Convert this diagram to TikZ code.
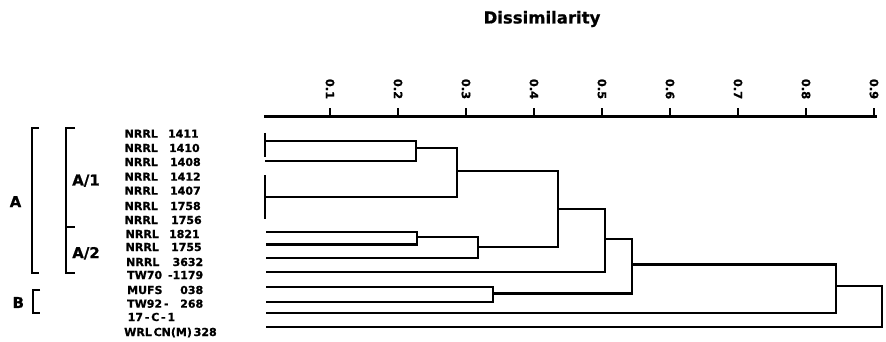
\documentclass[tikz,border=0pt]{standalone}
\usepackage{fontspec}
\setmainfont{DejaVu Sans}[BoldFeatures={FakeBold=0.8}]
\begin{document}
\begin{tikzpicture}[x=1pt,y=-1pt, line width=2.4pt, line join=miter,
  lbl/.style={anchor=west, inner sep=0pt, font=\bfseries\fontsize{11}{11}\selectfont, text height=8pt, text depth=0pt},
  ticklbl/.style={font=\bfseries\fontsize{11.5}{11.5}\selectfont, rotate=-90, inner sep=0pt},
  grp/.style={font=\bfseries\fontsize{15}{15}\selectfont, inner sep=0pt},
  brk/.style={line width=2.2pt}]
\useasboundingbox (0,0) rectangle (886,342);

% title
\node[font=\bfseries\fontsize{16.5}{16.5}\selectfont, inner sep=0pt] (title) at (542,19) {Dissimilarity};

% axis
\draw (264,116.5) -- (877,116.5);
\foreach \k/\t in {0/0.1,1/0.2,2/0.3,3/0.4,4/0.5,5/0.6,6/0.7,7/0.8,8/0.9}{
  \draw ({330+68*\k},116.5) -- ({330+68*\k},108.5);
  \node[ticklbl] (t\k) at ({330+68*\k},89) {\t};
}

% leaf labels
\node[lbl] (l1) at (123.5,133.7) {\makebox[74pt][s]{NRRL 1411}};
\node[lbl] (l2) at (123.5,148) {\makebox[75pt][s]{NRRL 1410}};
\node[lbl] (l3) at (123.5,162) {\makebox[76pt][s]{NRRL 1408}};
\node[lbl] (l4) at (123.5,176.7) {\makebox[76pt][s]{NRRL 1412}};
\node[lbl] (l5) at (123.5,190.7) {\makebox[76pt][s]{NRRL 1407}};
\node[lbl] (l6) at (123.5,206) {\makebox[76pt][s]{NRRL 1758}};
\node[lbl] (l7) at (123.5,220) {\makebox[77pt][s]{NRRL 1756}};
\node[lbl] (l8) at (124.5,234) {\makebox[74pt][s]{NRRL 1821}};
\node[lbl] (l9) at (124.5,247) {\makebox[76pt][s]{NRRL 1755}};
\node[lbl] (l10) at (125,262) {\makebox[77pt][s]{NRRL 3632}};
\node[lbl] (l11) at (126,275) {\makebox[76pt][s]{TW70 -1179}};
\node[lbl] (l12) at (126,290) {\makebox[76pt][s]{MUFS 038}};
\node[lbl] (l13) at (126,303.7) {\makebox[76pt][s]{TW92\,- 268}};
\node[lbl] (l14) at (126.5,317) {17\,-\,C\,-\,1};
\node[lbl] (l15) at (123,332) {WRL\,CN(M)\,328};

% group brackets
\draw[brk] (39,128) -- (31.7,128) -- (31.7,272.7) -- (39,272.7);
\draw[brk] (75,128) -- (65.7,128) -- (65.7,272.7) -- (75,272.7);
\draw[brk] (65.7,227.3) -- (75,227.3);
\draw[brk] (40,290) -- (33.3,290) -- (33.3,313.3) -- (40,313.3);
\node[grp] (gA) at (15.5,201.7) {A};
\node[grp] (gA1) at (86,180.7) {A/1};
\node[grp] (gA2) at (86,253.3) {A/2};
\node[grp] (gB) at (18.3,302.5) {B};

% dendrogram leaves and junctions
\coordinate (n1411) at (265,141);
\coordinate (n1408) at (265,161);
\coordinate (g2) at (265,197);
\coordinate (n1821) at (266,232);
\coordinate (n1755) at (266,244.5);
\coordinate (n3632) at (266,258);
\coordinate (ntw70) at (266,272);
\coordinate (nmufs) at (266,287);
\coordinate (ntw92) at (266,302);
\coordinate (n17c) at (266,313);
\coordinate (nwrl) at (266,327);
\coordinate (j1) at (416,148);
\coordinate (j2) at (457,171);
\coordinate (j3) at (417,237);
\coordinate (j4) at (478,247);
\coordinate (j5) at (558,209);
\coordinate (j6) at (605,239);
\coordinate (j7) at (493,293.5);
\coordinate (j8) at (632,264.5);
\coordinate (j9) at (836,286);
\coordinate (j10) at (882,306);

% zero-distance bars
\draw (265,133) -- (265,157);
\draw (265,175) -- (265,219);

\draw (n1411) -- (n1411 -| j1) -- (n1408 -| j1) -- (n1408);
\draw (j1) -- (j1 -| j2) -- (g2 -| j2) -- (g2);
\draw (n1821) -- (n1821 -| j3) -- (n1755 -| j3) -- (n1755);
\draw (j3) -- (j3 -| j4) -- (n3632 -| j4) -- (n3632);
\draw (j2) -- (j2 -| j5) -- (j4 -| j5) -- (j4);
\draw (j5) -- (j5 -| j6) -- (ntw70 -| j6) -- (ntw70);
\draw (nmufs) -- (nmufs -| j7) -- (ntw92 -| j7) -- (ntw92);
\draw (j6) -- (j6 -| j8) -- (j7 -| j8) -- (j7);
\draw (j8) -- (j8 -| j9) -- (n17c -| j9) -- (n17c);
\draw (j9) -- (j9 -| j10) -- (nwrl -| j10) -- (nwrl);
\end{tikzpicture}
\end{document}
